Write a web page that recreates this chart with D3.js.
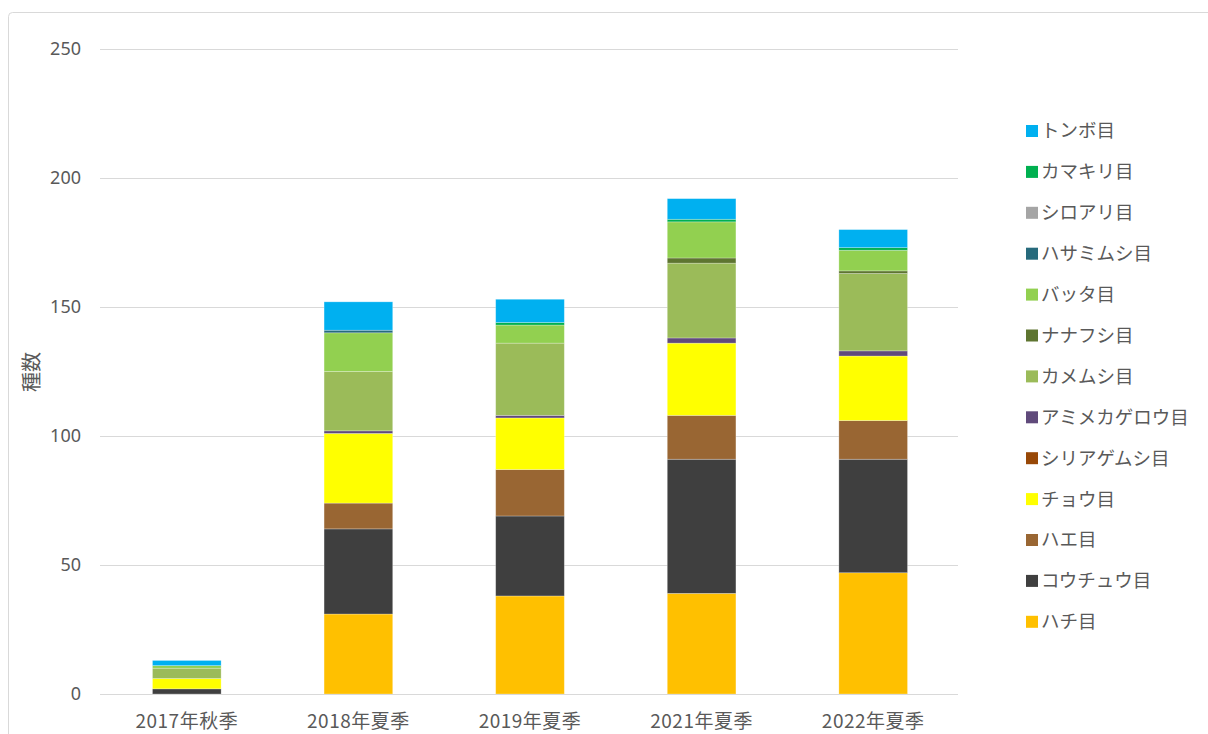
<!DOCTYPE html>
<html>
<head>
<meta charset="utf-8">
<script src="https://cdn.jsdelivr.net/npm/d3@7"></script>
<style>
  body { margin: 0; background: #fff; }
  text { font-family: "Noto Sans CJK JP", "Noto Sans", sans-serif; fill: #595959; }
</style>
</head>
<body>
<div id="chart"></div>
<script>
// categories along the x axis
var seasons = ["2017年秋季", "2018年夏季", "2019年夏季", "2021年夏季", "2022年夏季"];

// series, bottom of the stack first
var orders = ["ハチ目", "コウチュウ目", "ハエ目", "チョウ目", "シリアゲムシ目", "アミメカゲロウ目",
              "カメムシ目", "ナナフシ目", "バッタ目", "ハサミムシ目", "シロアリ目", "カマキリ目", "トンボ目"];
var orderColors = ["#FFC000", "#3F3F3F", "#996633", "#FFFF00", "#984807", "#604A7B",
                   "#9BBB59", "#5E7530", "#92D050", "#276A7C", "#A5A5A5", "#00B050", "#00B0F0"];

// counts per season (same order as seasons)
var hachi      = [0, 31, 38, 39, 47];
var kouchuu    = [2, 33, 31, 52, 44];
var hae        = [0, 10, 18, 17, 15];
var chou       = [4, 27, 20, 28, 25];
var shiriage   = [0, 0, 0, 0, 0];
var amime      = [0, 1, 1, 2, 2];
var kamemushi  = [4, 23, 28, 29, 30];
var nanafushi  = [0, 0, 0, 2, 1];
var batta      = [1, 15, 7, 14, 8];
var hasamimushi = [0, 1, 0, 0, 0];
var shiroari   = [0, 0, 0, 0, 0];
var kamakiri   = [0, 0, 1, 1, 1];
var tonbo      = [2, 11, 9, 8, 7];

var yTicks = [0, 50, 100, 150, 200, 250];

var seriesValues = [hachi, kouchuu, hae, chou, shiriage, amime, kamemushi,
                    nanafushi, batta, hasamimushi, shiroari, kamakiri, tonbo];

// build rows for d3.stack
var rows = seasons.map(function (s, i) {
    var r = { season: s };
    orders.forEach(function (o, j) { r[o] = seriesValues[j][i]; });
    return r;
});

var width = 1208, height = 734;
var plotLeft = 100, plotRight = 958, plotTop = 49, plotBottom = 694;

var svg = d3.select("#chart").append("svg")
    .attr("width", width)
    .attr("height", height);

// outer chart border
svg.append("rect")
    .attr("x", 8.5).attr("y", 12.5)
    .attr("width", 1210).attr("height", 740)
    .attr("rx", 4)
    .attr("fill", "none")
    .attr("stroke", "#d9d9d9");

var x = d3.scaleBand().domain(seasons).range([plotLeft, plotRight]).paddingInner(0.6).paddingOuter(0.3);
var y = d3.scaleLinear().domain([0, 250]).range([plotBottom, plotTop]);

// gridlines
svg.append("g")
    .selectAll("line")
    .data(yTicks)
    .enter()
    .append("line")
    .attr("x1", plotLeft).attr("x2", plotRight)
    .attr("y1", function (d) { return Math.round(y(d)) + 0.5; })
    .attr("y2", function (d) { return Math.round(y(d)) + 0.5; })
    .attr("stroke", "#d9d9d9")
    .attr("stroke-width", 1);

// stacked bars
var stack = d3.stack().keys(orders)(rows);
svg.append("g")
    .selectAll("g")
    .data(stack)
    .enter()
    .append("g")
    .attr("fill", function (d, i) { return orderColors[i]; })
    .selectAll("rect")
    .data(function (d) { return d.filter(function (p) { return p[1] > p[0]; }); })
    .enter()
    .append("rect")
    .attr("x", function (d) { return x(d.data.season) + 1; })
    .attr("width", x.bandwidth())
    .attr("y", function (d) { return y(d[1]); })
    .attr("height", function (d) { return y(d[0]) - y(d[1]); })
    .attr("stroke", "rgba(255,255,255,0.35)")
    .attr("stroke-width", 0.75);

// zero axis line on top
svg.append("line")
    .attr("x1", plotLeft).attr("x2", plotRight)
    .attr("y1", plotBottom + 0.5).attr("y2", plotBottom + 0.5)
    .attr("stroke", "#d9d9d9");

// y tick labels
svg.append("g")
    .selectAll("text")
    .data(yTicks)
    .enter()
    .append("text")
    .attr("x", 81)
    .attr("y", function (d) { return y(d); })
    .attr("dy", "0.35em")
    .attr("text-anchor", "end")
    .attr("font-size", 18)
    .style("font-family", "'Noto Sans', sans-serif")
    .text(function (d) { return d; });

// x labels
svg.append("g")
    .selectAll("text")
    .data(seasons)
    .enter()
    .append("text")
    .attr("x", function (d) { return x(d) + x.bandwidth() / 2 + 1; })
    .attr("y", 721)
    .attr("dy", "0.35em")
    .attr("text-anchor", "middle")
    .attr("font-size", 19)
    .attr("letter-spacing", 0.5)
    .text(function (d) { return d; });

// y axis title
svg.append("text")
    .attr("transform", "translate(32,372) rotate(-90)")
    .attr("text-anchor", "middle")
    .attr("dy", "0.35em")
    .attr("font-size", 20)
    .text("種数");

// legend, top entry is last series
var legendItems = orders.slice().reverse();
var legendColors = orderColors.slice().reverse();
var legend = svg.append("g")
    .selectAll("g")
    .data(legendItems)
    .enter()
    .append("g")
    .attr("transform", function (d, i) { return "translate(1026," + (131 + i * 40.9) + ")"; });

legend.append("rect")
    .attr("x", 0).attr("y", -6)
    .attr("width", 12).attr("height", 12)
    .attr("fill", function (d, i) { return legendColors[i]; });

legend.append("text")
    .attr("x", 15)
    .attr("y", 0)
    .attr("dy", "0.35em")
    .attr("font-size", 18.5)
    .text(function (d) { return d; });
</script>
</body>
</html>
